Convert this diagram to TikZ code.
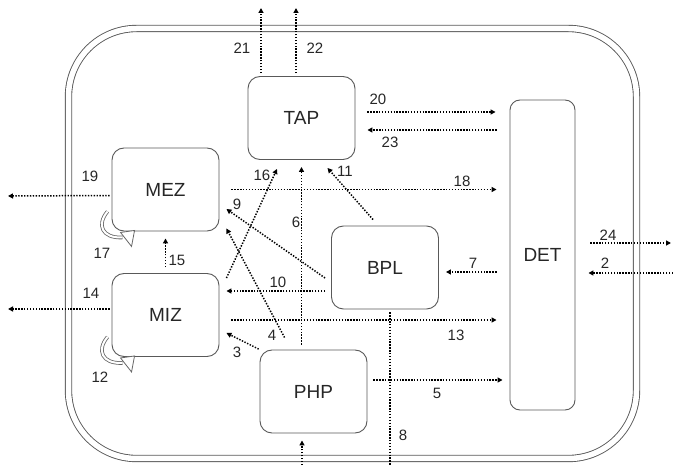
\documentclass[tikz,border=0pt]{standalone}
\usepackage{fontspec}
\setmainfont{Liberation Sans}
\usetikzlibrary{arrows.meta,positioning}
\tikzset{
	x=1pt, y=-1pt,
	box/.style={draw=black!65, line width=0.9pt, rounded corners=12pt, minimum width=107pt, minimum height=83pt, inner sep=0pt, text=black!85, font=\fontsize{19}{19}\selectfont},
	flow/.style={line width=1.5pt, dash pattern=on 1.4pt off 1.5pt, -{Triangle[length=5pt,width=5pt]}}, % dotted, with a small solid head
	plain/.style={flow, -},
	num/.style={inner sep=0pt, text=black!85, font=\fontsize{15}{15}\selectfont},
	band/.style={draw=black!60, double=white, double distance=2pt, line width=0.8pt},
}

\begin{document}
\begin{tikzpicture}
	\useasboundingbox (0,0) rectangle (673,465);
	% cell wall
	\draw[draw=black!65, line width=0.9pt, double=white, double distance=5.5pt, rounded corners=68pt] (68.5,28.5) rectangle (636.5,458.5);

	\node[box] (tap) at (301.5,118) {TAP};
	\node[box] (mez) at (165.5,189.5) {MEZ};
	\node[box] (miz) at (165.5,315) {MIZ};
	\node[box] (bpl) at (385,267.5) {BPL};
	\node[box] (php) at (313.5,391.5) {PHP};
	\node[box, minimum width=65pt, minimum height=310pt, rounded corners=10pt] (det) at (542.5,255) {DET};

	\coordinate (o21) at (261,8);
	\coordinate (o22) at (296,8);
	\coordinate (o19) at (8,196);
	\coordinate (o14) at (8,309);
	\coordinate (o8) at (390,465);
	\coordinate (o0) at (302,465);
	\coordinate (o24) at (671,243);
	\coordinate (o2) at (673,273);

	\draw[flow, shorten <=3pt] (tap.north -| o21) -- (o21);
	\draw[flow, shorten <=3pt] (tap.north -| o22) -- (o22);
	\draw[flow, shorten <=12pt, shorten >=14pt] ([yshift=6pt]tap.east) -- ([yshift=6pt]det.west |- tap.east);
	\draw[flow, shorten <=13pt, shorten >=12pt] ([yshift=-12pt]det.west |- tap.east) -- ([yshift=-12pt]tap.east);
	\draw[flow, shorten <=12pt, shorten >=13pt] (mez.east) -- (det.west |- mez.east);
	\draw[flow, shorten <=2pt] ([yshift=-6pt]mez.west) -- (o19);
	\draw[flow, shorten <=2pt] ([yshift=6pt]miz.west) -- (o14);
	\draw[flow, shorten <=6pt, shorten >=7pt] (miz.north) -- (mez.south);
	\draw[flow] ([xshift=7pt,yshift=-5pt]miz.north east) -- ([xshift=-24.5pt,yshift=-9pt]tap.south);
	\draw[flow, shorten <=5pt, shorten >=7pt] (php.north -| tap.south) -- (tap.south);
	\draw[flow] ([xshift=-12pt,yshift=6pt]bpl.north) -- ([xshift=26pt,yshift=-8pt]tap.south);
	\draw[flow] ([xshift=-6pt,yshift=-10.5pt]bpl.west) -- ([xshift=7pt,yshift=-19.5pt]mez.east);
	\draw[flow] ([xshift=25pt,yshift=12pt]php.north west) -- ([xshift=7pt,yshift=3pt]mez.south east);
	\draw[flow, shorten <=6pt, shorten >=7pt] ([yshift=-23.5pt]bpl.west) -- ([yshift=-23.5pt]miz.east |- bpl.west);
	\draw[flow, shorten <=12pt, shorten >=13pt] ([yshift=-5pt]miz.east) -- ([yshift=-5pt]det.west |- miz.east);
	\draw[flow, shorten <=1pt] (php.north west) -- ([xshift=7pt,yshift=24pt]miz.south east);
	\draw[flow, shorten <=6pt, shorten >=7pt] ([yshift=11.5pt]php.east) -- ([yshift=11.5pt]det.west |- php.east);
	\draw[plain, shorten <=3pt] ([xshift=5pt]bpl.south) -- (o8);
	\draw[flow, shorten >=7pt] (o0) -- (o0 |- php.south);
	\draw[flow, shorten <=13pt, shorten >=7pt] ([yshift=-17pt]det.west) -- ([yshift=-17pt]bpl.east |- det.west);
	\draw[flow, shorten <=15pt] ([yshift=12pt]det.east) -- (o24);
	\draw[flow, shorten >=13pt] (o2) -- ([yshift=-18pt]det.east);

	% turnover loops
	\foreach \b in {mez,miz}{
		\begin{scope}[shift={(\b.south west)}]
			\draw[band] (-4,-20) .. controls (-15,-7) and (-10,7) .. (11,6);
			\draw[draw=black!60, line width=0.8pt, fill=white] (9,1) -- (23,-1) -- (20,15) -- cycle;
		\end{scope}
	}

	\node[num] (n21) at (242,48) {21};
	\node[num] (n22) at (315,48) {22};
	\node[num] (n20) at (378,99) {20};
	\node[num] (n23) at (390,142) {23};
	\node[num] (n18) at (462,181) {18};
	\node[num] (n19) at (90,176) {19};
	\node[num] (n16) at (262,175) {16};
	\node[num] (n11) at (345,171) {11};
	\node[num] (n9) at (237,204) {9};
	\node[num] (n6) at (296,222) {6};
	\node[num] (n17) at (102,253) {17};
	\node[num] (n15) at (177,260) {15};
	\node[num] (n14) at (91,293) {14};
	\node[num] (n10) at (278,282) {10};
	\node[num] (n4) at (272,335) {4};
	\node[num] (n3) at (237,352) {3};
	\node[num] (n12) at (100,377) {12};
	\node[num] (n24) at (608,235) {24};
	\node[num] (n2) at (605,263) {2};
	\node[num] (n7) at (473,263) {7};
	\node[num] (n13) at (456,335) {13};
	\node[num] (n5) at (437,393) {5};
	\node[num] (n8) at (403,435) {8};
\end{tikzpicture}
\end{document}
